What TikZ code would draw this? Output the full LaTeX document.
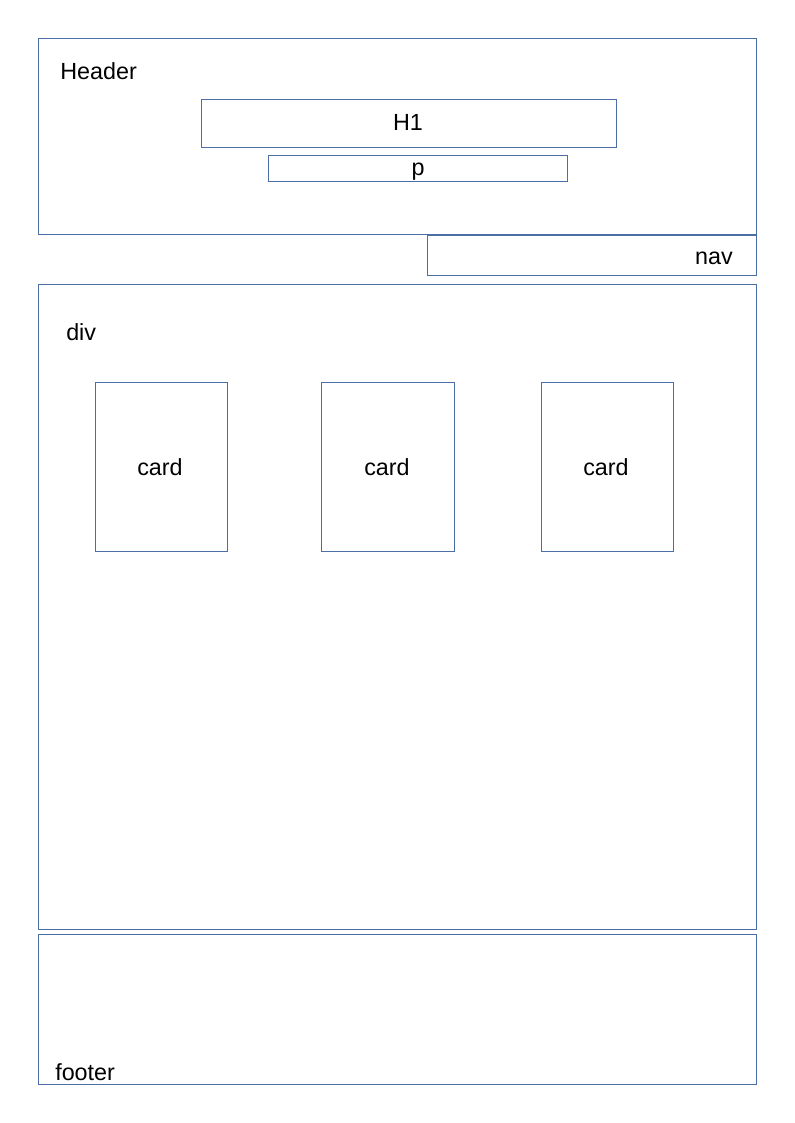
\documentclass[tikz,border=0pt]{standalone}
\usepackage{fontspec}
\setmainfont{Liberation Sans}
\definecolor{boxblue}{RGB}{74,110,165}
\begin{document}
\begin{tikzpicture}[x=0.75pt,y=-0.75pt,
  frame/.style={draw=boxblue,line width=0.6pt},
  lbl/.style={inner sep=0pt,font=\fontsize{17.5}{21}\selectfont}]
\useasboundingbox[fill=white] (0,0) rectangle (794,1123);
% header
\draw[frame] (38,38) rectangle (756,234);
\node[lbl,anchor=base west] (header) at (60,80) {Header};
\draw[frame] (201,99) rectangle (616,147);
\node[lbl,anchor=base] (h1) at (408,131) {H1};
\draw[frame] (268,155) rectangle (567,181);
\node[lbl,anchor=base] (p) at (418,176) {p};
% nav
\draw[frame] (427,235) rectangle (756,275);
\node[lbl,anchor=base east] (nav) at (733,264) {nav};
% div
\draw[frame] (38,284) rectangle (756,929);
\node[lbl,anchor=base west] (div) at (66,340) {div};
\draw[frame] (95,382) rectangle (227,551);
\node[lbl,anchor=base] (c1) at (160,475) {card};
\draw[frame] (321,382) rectangle (454,551);
\node[lbl,anchor=base] (c2) at (387,475) {card};
\draw[frame] (541,382) rectangle (673,551);
\node[lbl,anchor=base] (c3) at (606,475) {card};
% footer
\draw[frame] (38,934) rectangle (756,1084);
\node[lbl,anchor=base west] (footer) at (55,1080) {footer};
\end{tikzpicture}
\end{document}
